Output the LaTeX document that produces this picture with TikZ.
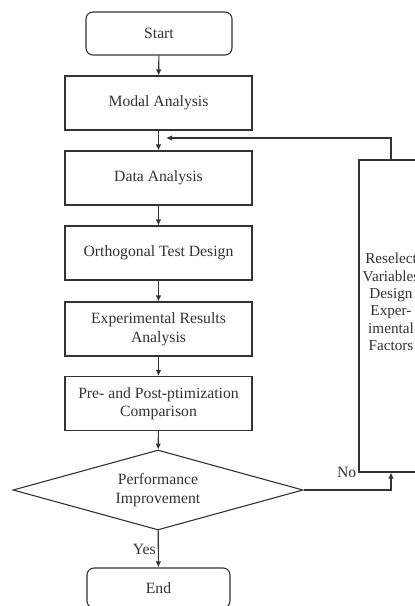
\documentclass[tikz,border=0pt]{standalone}
\usepackage{fontspec}
\setmainfont{Liberation Serif}
\usetikzlibrary{arrows.meta, positioning, calc, shapes.geometric}
\definecolor{InkGray}{HTML}{333333}
\tikzset{
  terminal/.style={draw=InkGray, line width=1.1pt, rounded corners=7pt, fill=white, align=center, minimum width=146pt, minimum height=43pt, inner sep=2pt, text=InkGray, font=\fontsize{15.7}{18}\selectfont},
  process/.style={draw=InkGray, line width=1.1pt, fill=white, align=center, minimum width=187pt, minimum height=54pt, inner sep=2pt, text=InkGray, font=\fontsize{15.7}{18.5}\selectfont},
  decision/.style={diamond, draw=InkGray, line width=1.1pt, fill=white, align=center, aspect=3.6, minimum width=290pt, minimum height=80pt, inner sep=0pt, text=InkGray, font=\fontsize{15.7}{18.5}\selectfont},
  sidebox/.style={draw=InkGray, line width=1.1pt, fill=white, minimum width=64pt, minimum height=312pt, inner sep=1pt},
  sidetext/.style={align=center, inner sep=1pt, text=InkGray, font=\fontsize{15.2}{17.3}\selectfont},
  tag/.style={inner sep=2pt, text=InkGray, font=\fontsize{15.7}{18}\selectfont},
  arrow/.style={-{Latex[length=6pt, width=5.5pt]}, line width=1.1pt, draw=InkGray}
}

\begin{document}
\begin{tikzpicture}[x=1pt, y=-1pt]
\clip (0,0) rectangle (415,606);

\node[terminal] (start) at (159,33.5) {Start};
\node[process] (modal) at (158.5,103) {Modal Analysis};
\node[process] (data) at (158.5,178) {Data Analysis};
\node[process] (ortho) at (158.5,253) {Orthogonal Test Design};
\node[process] (results) at (158.5,329) {Experimental Results\\Analysis};
\node[process] (compare) at (158.5,403.5) {Pre- and Post-ptimization\\Comparison};
\node[decision] (improve) at (158,490) {Performance\\Improvement};
\node[terminal, minimum width=143pt, minimum height=40pt] (finish) at (158.5,588) {End};

% feedback box, its text sits above the middle
\node[sidebox] (reselect) at (391,316) {};
\node[sidetext] (reselecttext) at (391,302) {Reselect\\Variables\\Design\\Exper-\\imental\\Factors};
\coordinate (loopin) at (166,138);

\draw[arrow] (start) -- (modal);
\draw[arrow] (modal) -- (data);
\draw[arrow] (data) -- (ortho);
\draw[arrow] (ortho) -- (results);
\draw[arrow] (results) -- (compare);
\draw[arrow] (compare) -- (improve);
\draw[arrow] (improve) -- node[tag, left] {Yes} (finish);
\draw[arrow] (improve.east) -| (reselect.south);
\draw[arrow] (reselect.north) |- (loopin);

\node[tag, anchor=east] (nolabel) at (reselect.south west) {No};
\end{tikzpicture}
\end{document}
